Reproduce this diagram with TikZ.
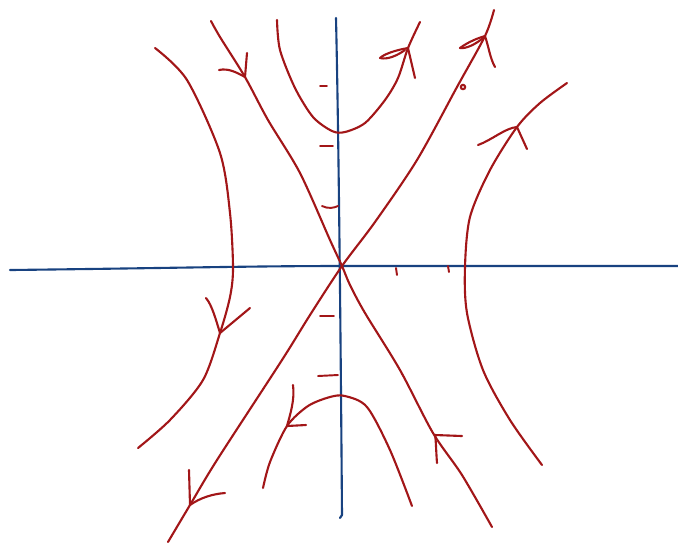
\documentclass[tikz,border=0pt]{standalone}
\usepackage{tikz}
\usetikzlibrary{calc}
\usepackage{xcolor}
\definecolor{inkred}{RGB}{162,22,24}
\definecolor{inkblue}{RGB}{24,66,128}

\begin{document}
\begin{tikzpicture}[x=0.01cm,y=-0.01cm,line cap=round,line join=round,
  axis/.style={inkblue,line width=0.6pt},
  traj/.style={inkred,line width=0.6pt},
  tick/.style={inkred,line width=0.55pt}]
\useasboundingbox (0,0) rectangle (678,544);
\coordinate (O) at (342,266);
% axes
\draw[axis] (10,270) .. controls (180,268) and (250,266) .. (O) -- (678,266);
\draw[axis] (336,18) .. controls (339,150) and (341,380) .. (342,515) -- (340,518);
% ticks
\foreach \ya/\yb/\xa/\xb in {86/86/320/327, 146/146/320/333, 316/316/320/334, 376/375/318/338}
  \draw[tick] (\xa,\ya) -- (\xb,\yb);
\draw[tick] (322,206) .. controls (328,209) and (334,208) .. (338,206);
\draw[tick] (396,268) -- (397,275);
\draw[tick] (448,266) -- (449,272);
\fill[inkred] (402,374) circle (1.2);
% separatrices
\draw[traj] plot[smooth] coordinates {(211,21) (220,37) (245,77) (268,120) (300,173) (330,240) (O) (350,285) (365,313) (400,370) (433,433) (462,475) (492,527)};
\draw[traj] plot[smooth] coordinates {(168,542) (190,505) (217,460) (282,360) (310,315) (O) (375,222) (417,160) (457,87) (485,36) (494,10)};
% upper and lower parabolas
\draw[traj] plot[smooth] coordinates {(277,20) (280,50) (295,88) (313,117) (332,131) (345,132) (365,123) (385,100) (398,78) (408,48) (420,22)};
\draw[traj] plot[smooth] coordinates {(263,488) (270,462) (287,426) (308,406) (330,397) (345,396) (367,407) (390,450) (412,506)};
% left and right branches
\draw[traj] plot[smooth] coordinates {(155,48) (187,80) (220,153) (230,213) (233,268) (230,297) (220,333) (203,380) (170,420) (138,448)};
\draw[traj] plot[smooth] coordinates {(567,83) (540,103) (517,127) (490,170) (470,217) (465,267) (467,313) (483,370) (510,420) (542,465)};
% arrow barbs
\draw[traj] (219,70) .. controls (228,68) and (236,72) .. (245,77) -- (247,53);
\draw[traj] (380,58) .. controls (384,54) and (396,50) .. (408,48) -- (415,78);
\draw[traj] (380,58) .. controls (388,60) and (398,55) .. (405,50);
\draw[traj] (460,48) .. controls (468,42) and (478,38) .. (485,36) .. controls (489,48) and (490,58) .. (495,67);
\draw[traj] (460,48) .. controls (466,49) and (476,44) .. (483,38);
\draw[traj] (463,87) circle (2.2);
\draw[traj] (478,145) .. controls (492,140) and (505,128) .. (517,127) -- (527,149);
\draw[traj] (206,298) .. controls (212,305) and (216,320) .. (220,333) -- (250,308);
\draw[traj] (293,385) .. controls (295,400) and (290,415) .. (287,426) -- (306,425);
\draw[traj] (437,463) .. controls (436,450) and (436,440) .. (435,435) -- (462,436);
\draw[traj] (189,470) -- (190,505) .. controls (200,498) and (212,494) .. (225,493);
\end{tikzpicture}
\end{document}
